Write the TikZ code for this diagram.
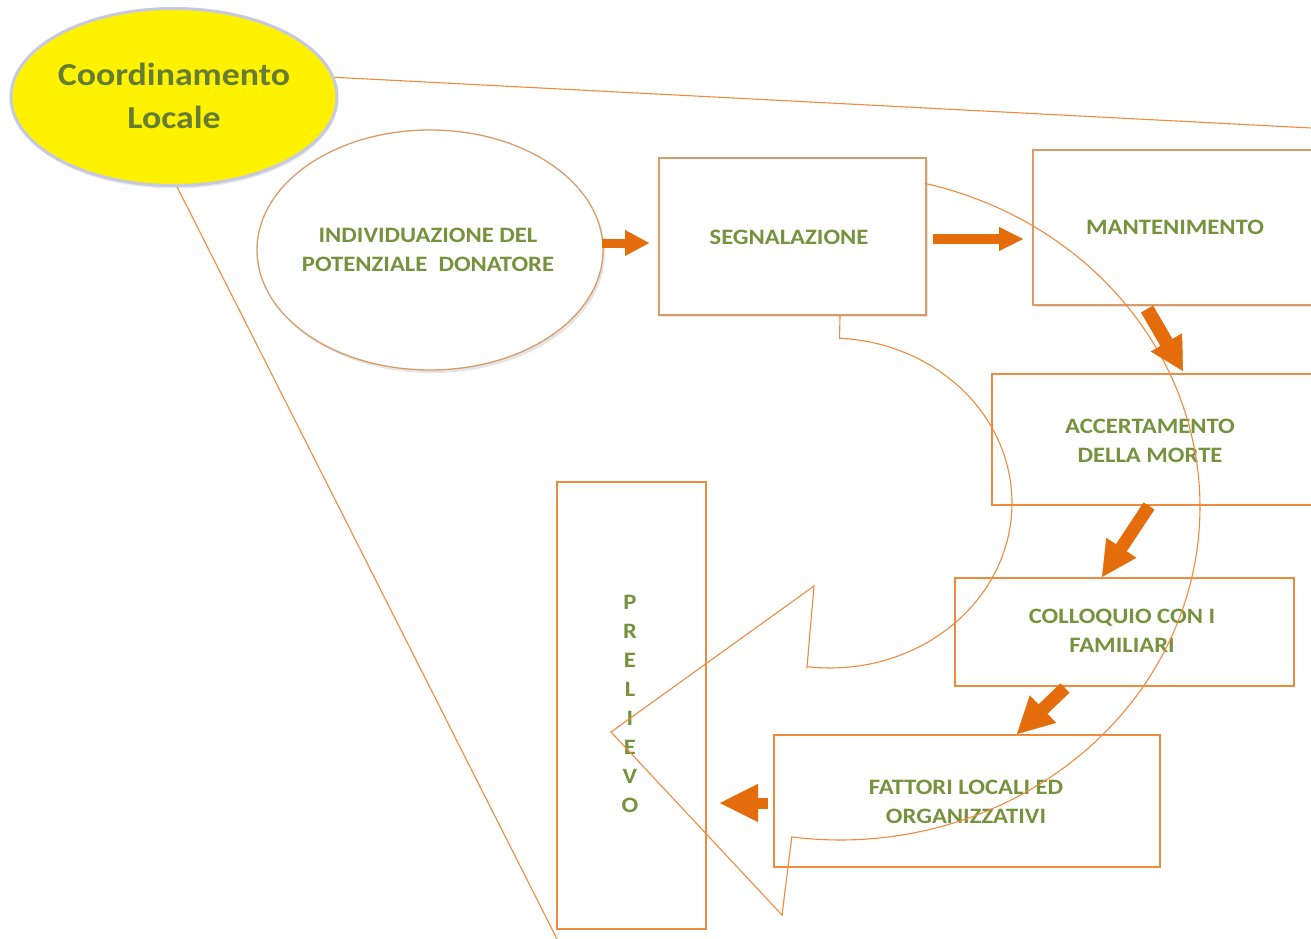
\documentclass[tikz,border=0pt]{standalone}
\usepackage{fontspec}
\newfontfamily\labfont[FakeStretch=1.12]{Carlito}
\usetikzlibrary{shapes.geometric,arrows.meta,shadows}
\definecolor{olivetxt}{HTML}{76923C}
\definecolor{orline}{HTML}{F08A3E}
\definecolor{orfill}{HTML}{E46C0A}
\definecolor{tanline}{HTML}{D99C68}
\definecolor{halo}{HTML}{C5C9E2}
\begin{document}
\begin{tikzpicture}[x=1pt,y=-1pt,
  lbl/.style={font=\labfont\bfseries\fontsize{22}{29}\selectfont, text=olivetxt, align=center, inner sep=0pt},
  biglbl/.style={font=\labfont\bfseries\fontsize{32}{43}\selectfont, text=olivetxt!85!black, align=center, inner sep=0pt},
  box/.style={draw=orline, line width=1.3pt, inner sep=0pt},
  tanbox/.style={draw=tanline, line width=1.3pt, inner sep=0pt, fill=white,
    drop shadow={shadow xshift=2pt, shadow yshift=-2pt, opacity=0.25, fill=black!40}},
  fat/.style n args={3}{draw=orfill, line width=#1, line cap=butt,
    -{Triangle[width=#2, length=#3, line width=0.4pt]}},
  thin/.style={draw=orline, line width=1.1pt, line join=miter}
]
\clip (0,0) rectangle (1311,939);
\fill[white] (0,0) rectangle (1311,939);

% Coordinamento Locale
\node[ellipse, fill=yellow, draw=halo, line width=3pt, minimum width=326pt, minimum height=177pt,
  drop shadow={shadow xshift=1pt, shadow yshift=-3pt, opacity=0.2, fill=black!40}] (coord) at (174,97) {};
\node[biglbl] (coordt) at (174,96) {Coordinamento\\Locale};

% long lines from coordinamento
\coordinate (topend) at (1311,128);
\coordinate (botend) at (557,939);
\draw[thin] (coord.7) -- (topend);
\draw[thin] (coord.-88) -- (botend);

% individuazione
\node[ellipse, draw=tanline, line width=1.3pt, fill=white, minimum width=346pt, minimum height=240pt,
  drop shadow={shadow xshift=2pt, shadow yshift=-3pt, opacity=0.25, fill=black!40}] (indiv) at (430,250) {};
\node[lbl] (indivt) at (428,250) {INDIVIDUAZIONE DEL\\POTENZIALE\ \ DONATORE};

% boxes
\node[tanbox, minimum width=267pt, minimum height=157pt] (seg) at (792.5,236.5) {};
\node[lbl] (segt) at (789,237) {SEGNALAZIONE};
\node[tanbox, minimum width=300pt, minimum height=155pt] (mant) at (1183,227.5) {};
\node[lbl] (mantt) at (1175,227) {MANTENIMENTO};
\node[box, minimum width=340pt, minimum height=131pt] (acc) at (1162,439.5) {};
\node[lbl] (acct) at (1150,441) {\fontsize{22}{31}\selectfont ACCERTAMENTO\\DELLA MORTE};
\node[box, minimum width=339pt, minimum height=108pt] (coll) at (1124.5,632) {};
\node[lbl] (collt) at (1122,631) {COLLOQUIO CON I\\FAMILIARI};
\node[box, minimum width=386pt, minimum height=132pt] (fatt) at (967,801) {};
\node[lbl] (fattt) at (966,802) {FATTORI LOCALI ED\\ORGANIZZATIVI};
\node[box, minimum width=149pt, minimum height=447pt] (prel) at (631.5,705.5) {};
\node[lbl] (prelt) at (630,704) {P\\R\\E\\L\\I\\E\\V\\O};

% big curved arrow outline
\coordinate (cstart) at (925,184);
\coordinate (cend) at (840,316);
\draw[thin] (cstart) -- plot[domain=-76.3:97.7, samples=120] ({840+360*cos(\x)},{507+333*sin(\x)})
  -- (782,915) -- (611,732) -- (814,586) -- (807,667)
  -- plot[domain=97.2:-87, samples=100] ({830+182*cos(\x)},{503+165*sin(\x)})
  -- (cend);

% fat arrows
\coordinate (a1s) at (602,243); \coordinate (a1e) at (649,243);
\coordinate (a2s) at (933,239); \coordinate (a2e) at (1023,239);
\coordinate (a3s) at (1147,309); \coordinate (a3e) at (1183,371);
\coordinate (a4s) at (1149,506); \coordinate (a4e) at (1102,577);
\coordinate (a5s) at (1065,688); \coordinate (a5e) at (1017,734);
\coordinate (a6s) at (768,803); \coordinate (a6e) at (720,803);
\draw[fat={9pt}{26pt}{24pt}] (a1s) -- (a1e);
\draw[fat={10pt}{24pt}{24pt}] (a2s) -- (a2e);
\draw[fat={14pt}{36pt}{33pt}] (a3s) -- (a3e);
\draw[fat={13pt}{36pt}{35pt}] (a4s) -- (a4e);
\draw[fat={13pt}{38pt}{36pt}] (a5s) -- (a5e);
\draw[fat={11pt}{38pt}{38pt}] (a6s) -- (a6e);
\end{tikzpicture}
\end{document}
